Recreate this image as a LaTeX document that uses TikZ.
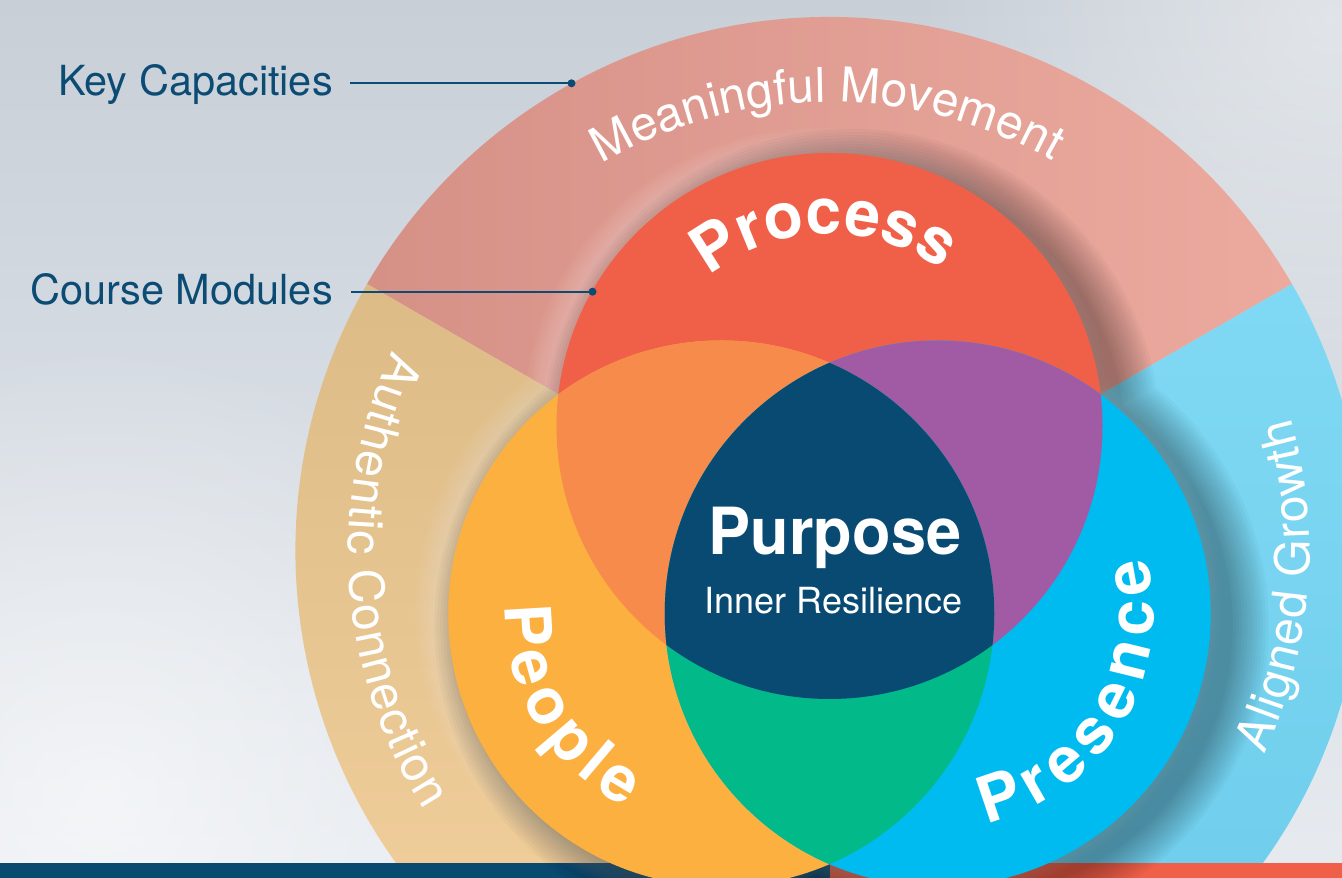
\documentclass[tikz,border=0pt]{standalone}
\usepackage{fontspec}
\setmainfont{TeX Gyre Heros}
\usetikzlibrary{fadings}
\definecolor{navy}{RGB}{9,74,113}
\definecolor{labelblue}{RGB}{12,76,116}
\definecolor{procred}{RGB}{240,96,72}
\definecolor{peopleyel}{RGB}{251,176,64}
\definecolor{presblue}{RGB}{0,187,240}
\definecolor{ovorange}{RGB}{246,139,75}
\definecolor{ovpurple}{RGB}{161,91,165}
\definecolor{ovgreen}{RGB}{2,185,138}
\definecolor{core}{RGB}{8,74,114}
\definecolor{pinkL}{RGB}{214,145,135}
\definecolor{pinkR}{RGB}{236,170,159}
\definecolor{tanT}{RGB}{220,187,134}
\definecolor{tanB}{RGB}{246,211,160}
\definecolor{skyT}{RGB}{128,217,244}
\definecolor{skyB}{RGB}{106,203,234}
\definecolor{bgT}{RGB}{200,207,215}
\definecolor{bgB}{RGB}{231,235,240}
\tikzfading[name=softblob, inner color=transparent!0, outer color=transparent!100]
\tikzset{
  ringchar/.style={inner sep=0pt, outer sep=0pt, anchor=base, text=white},
  sidelabel/.style={text=labelblue, font=\fontsize{41.5}{44}\selectfont, inner sep=0pt, anchor=base east},
  leader/.style={draw=labelblue, line width=2pt},
  leaderdot/.style={fill=labelblue},
  centertext/.style={text=white, inner sep=0pt, anchor=base}
}
% #1 name prefix, #2 centre, #3 baseline radius, #4 middle angle, #5 direction (1 ccw, -1 cw),
% #6 font size, #7 tracking, #8 font, #9 list char/width (negative width = space)
\newcommand\arcletters[9]{%
\begin{scope}[shift={#2}]%
\gdef\ALacc{0}\gdef\ALcnt{0}%
\foreach \lch/\lw in {#9}{%
  \pgfmathsetmacro\ALtmp{\ALacc+abs(\lw)}\xdef\ALacc{\ALtmp}%
  \pgfmathsetmacro\ALtmp{\ALcnt+1}\xdef\ALcnt{\ALtmp}}%
\pgfmathsetmacro\ALtot{\ALacc/1000*#6+(\ALcnt-1)*#7}%
\gdef\ALpos{0}%
\foreach \lch/\lw [count=\ALi] in {#9}{%
  \pgfmathsetmacro\ALang{#4+(#5)*(\ALpos+abs(\lw)/2000*#6-\ALtot/2)/#3*57.29578}%
  \pgfmathsetmacro\ALrot{\ALang+(#5)*90}%
  \ifdim\lw pt>0pt
    \node[ringchar, font=#8, rotate=\ALrot] (#1\ALi) at (\ALang:#3) {\lch};%
  \fi
  \pgfmathsetmacro\ALtmp{\ALpos+abs(\lw)/1000*#6+#7}\xdef\ALpos{\ALtmp}%
}%
\end{scope}}

\begin{document}
\begin{tikzpicture}[x=1pt,y=1pt]
\useasboundingbox (0,0) rectangle (1342,878);
\clip (0,0) rectangle (1342,878);
% background
\shade[top color=bgT, bottom color=bgB] (0,0) rectangle (1342,878);
\fill[white, path fading=softblob, fill opacity=0.55] (100,80) circle (460);
\fill[white, path fading=softblob, fill opacity=0.45] (1330,860) circle (420);

\coordinate (C) at (829.5,327);
\coordinate (Pr) at (829.5,452);
\coordinate (Pe) at (721.25,264.5);
\coordinate (Ps) at (937.75,264.5);

% outer ring sectors
\begin{scope}[shift={(829.5,327)}]
\shade[left color=pinkL, right color=pinkR] (0,0) -- (30:534) arc[start angle=30, end angle=150, radius=534] -- cycle;
\shade[top color=tanT, bottom color=tanB] (0,0) -- (150:534) arc[start angle=150, end angle=270, radius=534] -- cycle;
\shade[top color=skyT, bottom color=skyB] (0,0) -- (-90:534) arc[start angle=-90, end angle=30, radius=534] -- cycle;
\end{scope}

% bottom bar
\fill[navy] (0,0) rectangle (829.5,15);
\fill[procred] (829.5,0) rectangle (1342,15);

% glow (left) and shadow (lower right)
\foreach \k in {0,...,7}{
  \fill[white, opacity=0.03] ([shift={(-12,4)}]Pr) circle[radius=273+3*\k]
     ([shift={(-12,4)}]Pe) circle[radius=273+3*\k]
     ([shift={(-12,4)}]Ps) circle[radius=273+3*\k];
}
\foreach \k in {0,...,12}{
  \fill[black, opacity=0.026] ([shift={(22,-12)}]Pr) circle[radius=273+3*\k]
     ([shift={(22,-12)}]Pe) circle[radius=273+3*\k]
     ([shift={(22,-12)}]Ps) circle[radius=273+3*\k];
}

% Venn circles
\fill[procred] (Pr) circle (273);
\fill[peopleyel] (Pe) circle (273);
\fill[presblue] (Ps) circle (273);
\begin{scope}
  \clip (Pr) circle (273);
  \fill[ovorange] (Pe) circle (273);
  \fill[ovpurple] (Ps) circle (273);
\end{scope}
\begin{scope}
  \clip (Pe) circle (273);
  \fill[ovgreen] (Ps) circle (273);
\end{scope}
\begin{scope}
  \clip (Pr) circle (273);
  \clip (Pe) circle (273);
  \fill[core] (Ps) circle (273);
\end{scope}

% ring labels
\arcletters{mm}{(829.5,327)}{449}{90.3}{-1}{48}{0}{\fontsize{48}{50}\selectfont}%
  {M/833,e/556,a/556,n/556,i/222,n/556,g/556,f/278,u/556,l/222,x/-278,M/833,o/556,v/500,e/556,m/833,e/556,n/556,t/278}
\arcletters{ac}{(829.5,327)}{481}{184}{1}{48}{1.3}{\fontsize{48}{50}\selectfont}%
  {A/667,u/556,t/278,h/556,e/556,n/556,t/278,i/222,c/500,x/-278,C/722,o/556,n/556,n/556,e/556,c/500,t/278,i/222,o/556,n/556}
\arcletters{ag}{(829.5,327)}{480}{-4.5}{1}{48}{1.3}{\fontsize{48}{50}\selectfont}%
  {A/667,l/222,i/222,g/556,n/556,e/556,d/556,x/-278,G/778,r/333,o/556,w/722,t/278,h/556}

% module labels
\arcletters{pc}{(829.5,452)}{192}{91.5}{-1}{64}{0}{\bfseries\fontsize{64}{66}\selectfont}%
  {P/667,r/389,o/611,c/556,e/556,s/556,s/556}
\arcletters{pp}{(721.25,264.5)}{216}{210.75}{1}{64}{7.8}{\bfseries\fontsize{64}{66}\selectfont}%
  {P/667,e/556,o/611,p/611,l/278,e/556}
\arcletters{ps}{(937.75,264.5)}{216}{-31}{1}{64}{8.9}{\bfseries\fontsize{64}{66}\selectfont}%
  {P/667,r/389,e/556,s/556,e/556,n/611,c/556,e/556}

% centre
\node[centertext, font=\bfseries\fontsize{65}{70}\selectfont, xscale=0.97] (purpose) at (835,323) {Purpose};
\node[centertext, font=\fontsize{36}{40}\selectfont] (inner) at (833.4,264.7) {Inner Resilience};

% side labels with leaders
\node[sidelabel] (kc) at (333,782.3) {Key Capacities};
\node[sidelabel] (cm) at (333,573) {Course Modules};
\coordinate (kcdot) at (571.5,794.7);
\coordinate (cmdot) at (592.5,586.3);
\path (kc.east) ++(17,0) coordinate (kcstart);
\path (cm.east) ++(18,0) coordinate (cmstart);
\draw[leader] (kcstart |- kcdot) -- (kcdot);
\draw[leader] (cmstart |- cmdot) -- (cmdot);
\fill[leaderdot] (kcdot) circle (4);
\fill[leaderdot] (cmdot) circle (4);
\end{tikzpicture}
\end{document}
